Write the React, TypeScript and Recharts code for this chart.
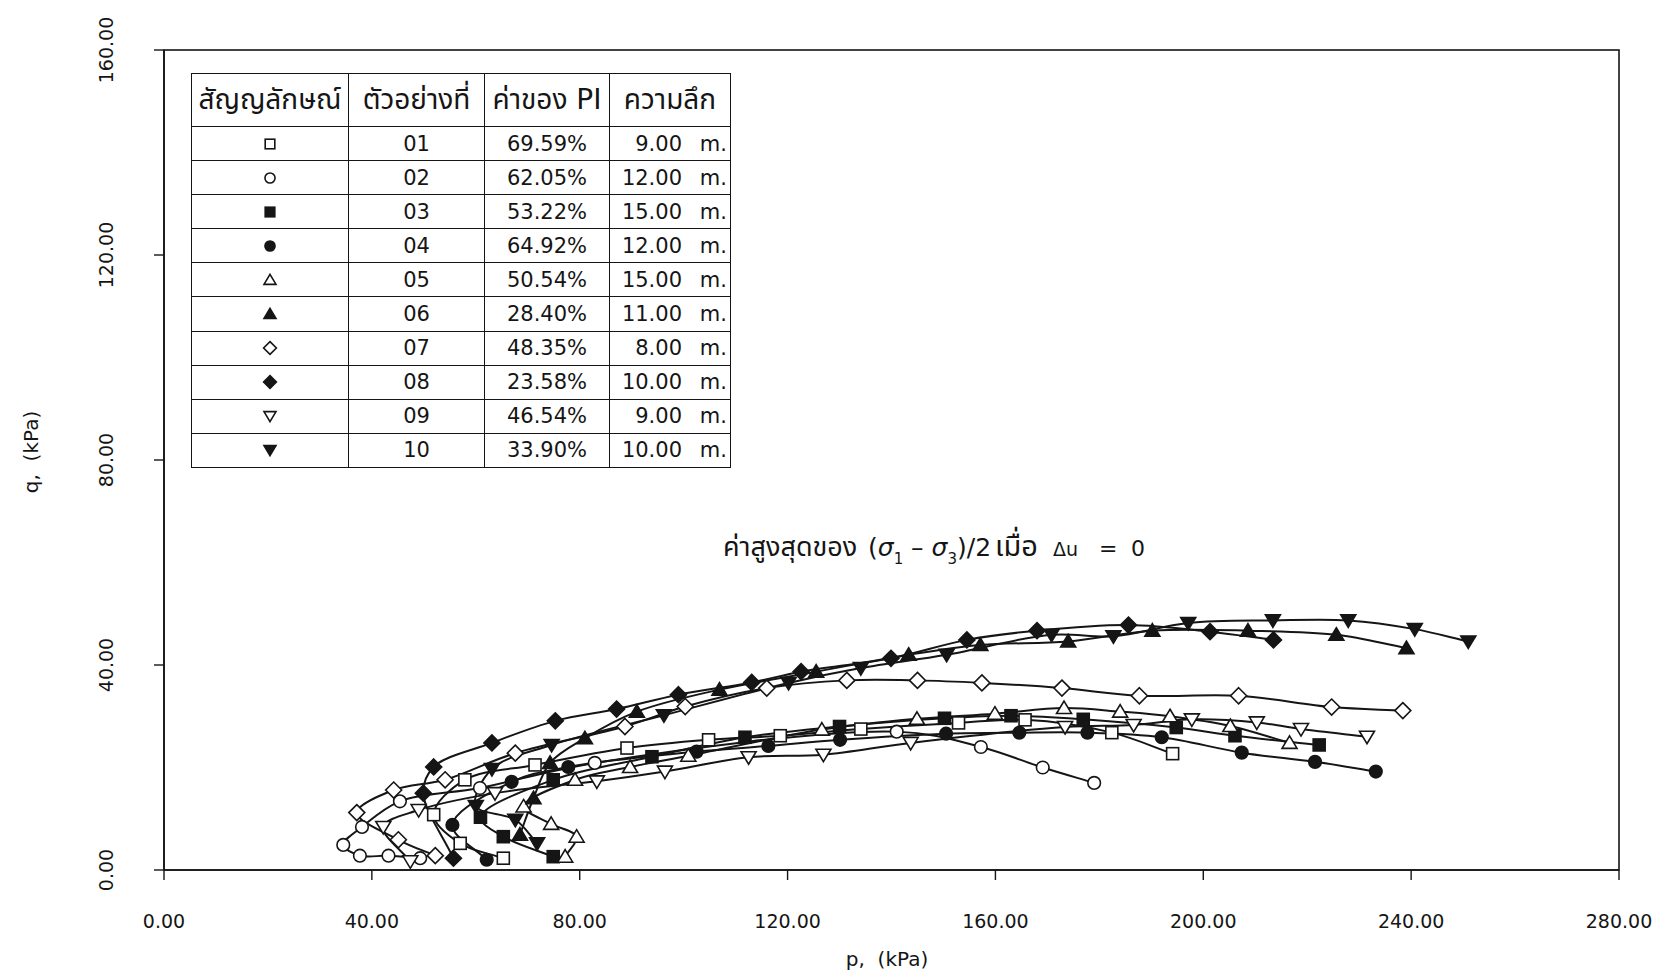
import React from 'react';
import { ComposedChart, Line, XAxis, YAxis } from 'recharts';

// ---------- data (p, q in kPa) ----------
const P01 = [65.3, 57.0, 51.9, 57.9, 71.4, 89.1, 104.8, 118.6, 134.1, 152.9, 165.7, 182.4, 194.1];
const Q01 = [2.3, 5.2, 10.8, 17.6, 20.5, 23.8, 25.4, 26.2, 27.5, 28.7, 29.3, 26.8, 22.7];

const P02 = [49.3, 43.2, 37.7, 34.5, 38.1, 45.4, 60.8, 82.9, 141.0, 157.2, 169.1, 179.0];
const Q02 = [2.3, 2.8, 2.8, 4.9, 8.4, 13.4, 16.0, 20.9, 27.0, 24.0, 20.0, 17.0];

const P03 = [74.9, 65.3, 60.9, 74.9, 93.9, 111.8, 130.0, 150.2, 163.0, 176.9, 194.8, 206.1, 222.3];
const Q03 = [2.6, 6.5, 10.3, 17.6, 22.1, 25.9, 28.0, 29.6, 30.1, 29.4, 27.8, 26.2, 24.4];

const P04 = [62.1, 55.5, 66.9, 77.8, 102.5, 116.3, 130.1, 150.5, 164.6, 177.7, 192.0, 207.4, 221.5, 233.2];
const Q04 = [2.0, 8.8, 17.2, 20.1, 23.1, 24.2, 25.4, 26.6, 26.8, 26.8, 25.9, 22.9, 21.1, 19.2];

const P05 = [77.2, 79.4, 74.5, 69.2, 79.1, 89.7, 100.9, 126.6, 144.9, 159.9, 173.2, 184.0, 193.6, 205.2, 216.6];
const Q05 = [2.6, 6.5, 9.0, 12.4, 17.6, 20.1, 22.3, 27.4, 29.5, 30.5, 31.6, 30.9, 30.0, 28.1, 24.8];

const P06 = [68.5, 71.1, 74.3, 81.0, 91.0, 106.9, 125.5, 143.3, 157.1, 174.0, 190.2, 208.6, 225.6, 239.1];
const Q06 = [6.9, 14.0, 20.9, 25.7, 30.9, 35.2, 38.7, 42.0, 43.9, 44.6, 46.7, 46.7, 45.9, 43.3];

const P07 = [52.2, 45.1, 37.1, 44.2, 54.1, 67.6, 88.7, 100.3, 116.0, 131.4, 145.0, 157.4, 172.8, 187.7, 206.8, 224.7, 238.4];
const Q07 = [2.8, 5.9, 11.2, 15.6, 17.6, 22.8, 28.0, 31.9, 35.5, 37.0, 37.0, 36.5, 35.5, 34.0, 34.0, 31.8, 31.1];

const P08 = [55.7, 49.9, 51.9, 63.1, 75.3, 87.1, 99.0, 113.1, 122.6, 139.9, 154.5, 168.0, 185.6, 201.3, 213.5];
const Q08 = [2.3, 15.0, 20.1, 24.8, 29.1, 31.4, 34.2, 36.6, 38.7, 41.3, 44.9, 46.7, 47.8, 46.5, 44.9];

const P09 = [47.4, 42.2, 49.0, 63.7, 83.3, 96.4, 112.5, 126.9, 143.7, 173.4, 186.6, 197.8, 210.3, 218.8, 231.5];
const Q09 = [1.7, 8.4, 11.7, 15.0, 17.3, 19.2, 22.0, 22.5, 24.8, 27.9, 28.3, 29.4, 28.8, 27.5, 26.0];

const P10 = [71.8, 67.6, 60.0, 63.1, 74.6, 96.2, 120.2, 134.1, 150.6, 170.8, 182.7, 197.1, 213.4, 227.9, 240.7, 251.0];
const Q10 = [5.2, 9.8, 12.5, 19.7, 24.4, 30.2, 36.5, 39.4, 42.0, 45.9, 45.6, 48.2, 48.7, 48.7, 47.0, 44.6];

const X_TICKS = [0, 40, 80, 120, 160, 200, 240, 280];
const Y_TICKS = [0, 40, 80, 120, 160];

const SAMPLE_IDS = ['01', '02', '03', '04', '05', '06', '07', '08', '09', '10'];
const PI_VALUES = ['69.59%', '62.05%', '53.22%', '64.92%', '50.54%', '28.40%', '48.35%', '23.58%', '46.54%', '33.90%'];
const DEPTHS = ['9.00', '12.00', '15.00', '12.00', '15.00', '11.00', '8.00', '10.00', '9.00', '10.00'];
const SHAPES = ['square', 'circle', 'square', 'circle', 'up', 'up', 'diamond', 'diamond', 'down', 'down'];
const FILLED = [false, false, true, true, false, true, false, true, false, true];

const P_LIST = [P01, P02, P03, P04, P05, P06, P07, P08, P09, P10];
const Q_LIST = [Q01, Q02, Q03, Q04, Q05, Q06, Q07, Q08, Q09, Q10];

const HEADERS = ['สัญญลักษณ์', 'ตัวอย่างที่', 'ค่าของ PI', 'ความลึก'];

// ---------- styling ----------
const INK = '#151515';
const FONT = "'DejaVu Sans', 'Noto Sans Thai', 'Noto Sans Thai UI', Loma, Garuda, Norasi, 'Noto Sans', sans-serif";

// centripetal Catmull-Rom curve factory (works for non-monotonic paths)
function catmullRom(context: any) {
  let pts: number[][] = [];
  return {
    areaStart() {},
    areaEnd() {},
    lineStart() {
      pts = [];
    },
    point(x: number, y: number) {
      pts.push([+x, +y]);
    },
    lineEnd() {
      const n = pts.length;
      if (!n) return;
      context.moveTo(pts[0][0], pts[0][1]);
      if (n === 1) return;
      for (let i = 0; i < n - 1; i++) {
        const p1 = pts[i];
        const p2 = pts[i + 1];
        const p0 = i > 0 ? pts[i - 1] : [2 * p1[0] - p2[0], 2 * p1[1] - p2[1]];
        const p3 = i + 2 < n ? pts[i + 2] : [2 * p2[0] - p1[0], 2 * p2[1] - p1[1]];
        const d01 = Math.hypot(p1[0] - p0[0], p1[1] - p0[1]);
        const d12 = Math.hypot(p2[0] - p1[0], p2[1] - p1[1]);
        const d23 = Math.hypot(p3[0] - p2[0], p3[1] - p2[1]);
        const a01 = Math.sqrt(d01);
        const a12 = Math.sqrt(d12);
        const a23 = Math.sqrt(d23);
        let c1x = p1[0], c1y = p1[1], c2x = p2[0], c2y = p2[1];
        if (a01 > 1e-9) {
          const a = 2 * d01 + 3 * a01 * a12 + d12;
          const nn = 3 * a01 * (a01 + a12);
          c1x = (p1[0] * a - p0[0] * d12 + p2[0] * d01) / nn;
          c1y = (p1[1] * a - p0[1] * d12 + p2[1] * d01) / nn;
        }
        if (a23 > 1e-9) {
          const b = 2 * d23 + 3 * a23 * a12 + d12;
          const m = 3 * a23 * (a23 + a12);
          c2x = (p2[0] * b + p1[0] * d23 - p3[0] * d12) / m;
          c2y = (p2[1] * b + p1[1] * d23 - p3[1] * d12) / m;
        }
        context.bezierCurveTo(c1x, c1y, c2x, c2y, p2[0], p2[1]);
      }
    },
  };
}

function Marker({ cx, cy, shape, filled, s = 1 }: any) {
  if (cx == null || cy == null || isNaN(cx) || isNaN(cy)) return null;
  const fill = filled ? INK : '#fff';
  const common = { fill, stroke: INK, strokeWidth: 1.6 };
  switch (shape) {
    case 'square':
      return <rect x={cx - 6 * s} y={cy - 6 * s} width={12 * s} height={12 * s} {...common} />;
    case 'circle':
      return <circle cx={cx} cy={cy} r={6.3 * s} {...common} />;
    case 'up':
      return <path d={`M${cx},${cy - 7 * s} L${cx + 7.5 * s},${cy + 5.5 * s} L${cx - 7.5 * s},${cy + 5.5 * s} Z`} {...common} />;
    case 'down':
      return <path d={`M${cx},${cy + 7 * s} L${cx + 7.5 * s},${cy - 5.5 * s} L${cx - 7.5 * s},${cy - 5.5 * s} Z`} {...common} />;
    case 'diamond':
      return <path d={`M${cx},${cy - 8 * s} L${cx + 8 * s},${cy} L${cx},${cy + 8 * s} L${cx - 8 * s},${cy} Z`} {...common} />;
    default:
      return null;
  }
}

const XTick = (props: any) => {
  const { x, payload } = props;
  return (
    <text x={x} y={928} textAnchor="middle" fontSize={19} fill={INK} fontFamily={FONT}>
      {Number(payload.value).toFixed(2)}
    </text>
  );
};

const YTick = (props: any) => {
  const { y, payload } = props;
  const x = 113;
  return (
    <text x={x} y={y} textAnchor="middle" fontSize={19} fill={INK} fontFamily={FONT} transform={`rotate(-90, ${x}, ${y})`}>
      {Number(payload.value).toFixed(2)}
    </text>
  );
};

const SERIES = SAMPLE_IDS.map((id, i) => ({
  id,
  shape: SHAPES[i],
  filled: FILLED[i],
  data: P_LIST[i].map((p, k) => ({ p, q: Q_LIST[i][k] })),
}));

const cellBase: React.CSSProperties = {
  border: `1.5px solid ${INK}`,
  padding: 0,
  fontFamily: FONT,
  color: INK,
  textAlign: 'center',
  verticalAlign: 'middle',
  whiteSpace: 'nowrap',
};

function LegendTable() {
  return (
    <table
      style={{
        position: 'absolute',
        left: 191,
        top: 73,
        width: 539,
        borderCollapse: 'collapse',
        tableLayout: 'fixed',
        background: '#fff',
      }}
    >
      <colgroup>
        <col style={{ width: 157 }} />
        <col style={{ width: 136 }} />
        <col style={{ width: 125 }} />
        <col style={{ width: 121 }} />
      </colgroup>
      <tbody>
        <tr style={{ height: 53 }}>
          {HEADERS.map((h) => (
            <td key={h} style={{ ...cellBase, fontSize: 28, lineHeight: '30px' }}>
              {h}
            </td>
          ))}
        </tr>
        {SAMPLE_IDS.map((id, i) => (
          <tr key={id} style={{ height: 34.1 }}>
            <td style={cellBase}>
              <svg width={18} height={18} style={{ display: 'block', margin: '0 auto' }}>
                <Marker cx={9} cy={9} shape={SHAPES[i]} filled={FILLED[i]} s={0.8} />
              </svg>
            </td>
            <td style={{ ...cellBase, fontSize: 21, lineHeight: '24px' }}>{id}</td>
            <td style={{ ...cellBase, fontSize: 21, lineHeight: '24px' }}>{PI_VALUES[i]}</td>
            <td style={{ ...cellBase, fontSize: 21, lineHeight: '24px', textAlign: 'left' }}>
              <span style={{ display: 'inline-block', width: 72, textAlign: 'right' }}>{DEPTHS[i]}</span>
              <span style={{ display: 'inline-block', width: 45, textAlign: 'right' }}>m.</span>
            </td>
          </tr>
        ))}
      </tbody>
    </table>
  );
}

export default function App() {
  return (
    <div style={{ position: 'absolute', left: 0, top: 0, width: 1668, height: 977, background: '#fff', overflow: 'hidden' }}>
      <ComposedChart width={1668} height={977} margin={{ top: 50, right: 49, left: 0, bottom: 0 }}>
        <XAxis
          type="number"
          dataKey="p"
          domain={[0, 280]}
          ticks={X_TICKS}
          interval={0}
          allowDataOverflow
          height={107}
          tickSize={10}
          axisLine={{ stroke: INK, strokeWidth: 1.6 }}
          tickLine={{ stroke: INK, strokeWidth: 1.4 }}
          tick={<XTick />}
        />
        <YAxis
          type="number"
          dataKey="q"
          domain={[0, 160]}
          ticks={Y_TICKS}
          interval={0}
          allowDataOverflow
          width={164}
          tickSize={10}
          axisLine={{ stroke: INK, strokeWidth: 1.6 }}
          tickLine={{ stroke: INK, strokeWidth: 1.4 }}
          tick={<YTick />}
        />
        {SERIES.map((s) => (
          <Line
            key={s.id}
            data={s.data}
            dataKey="q"
            name={s.id}
            type={catmullRom as any}
            stroke={INK}
            strokeWidth={2}
            isAnimationActive={false}
            activeDot={false}
            legendType="none"
            dot={(props: any) => (
              <Marker key={`${s.id}-${props.index}`} cx={props.cx} cy={props.cy} shape={s.shape} filled={s.filled} />
            )}
          />
        ))}
      </ComposedChart>

      <svg width={1668} height={977} style={{ position: 'absolute', left: 0, top: 0, pointerEvents: 'none' }}>
        <rect x={164} y={50} width={1455} height={820} fill="none" stroke={INK} strokeWidth={1.6} />
        <text x={38} y={452} textAnchor="middle" fontSize={20} fill={INK} fontFamily={FONT} transform="rotate(-90, 38, 452)" style={{ whiteSpace: 'pre' }}>
          {'q,  (kPa)'}
        </text>
        <text x={887} y={966} textAnchor="middle" fontSize={20} fill={INK} fontFamily={FONT} style={{ whiteSpace: 'pre' }}>
          {'p,  (kPa)'}
        </text>
        <g fontFamily={FONT} fill={INK}>
          <text x={723} y={556} fontSize={27}>ค่าสูงสุดของ</text>
          <text x={868} y={556} fontSize={25}>
            (<tspan fontStyle="italic">σ</tspan>
            <tspan fontSize={15} dy={8}>1</tspan>
            <tspan dy={-8}> – </tspan>
            <tspan fontStyle="italic">σ</tspan>
            <tspan fontSize={15} dy={8}>3</tspan>
            <tspan dy={-8}>)/2</tspan>
          </text>
          <text x={995} y={556} fontSize={29}>เมื่อ</text>
          <text x={1053} y={556} fontSize={19}>Δu</text>
          <text x={1099} y={556} fontSize={22}>=</text>
          <text x={1131} y={556} fontSize={22}>0</text>
        </g>
      </svg>

      <LegendTable />
    </div>
  );
}
